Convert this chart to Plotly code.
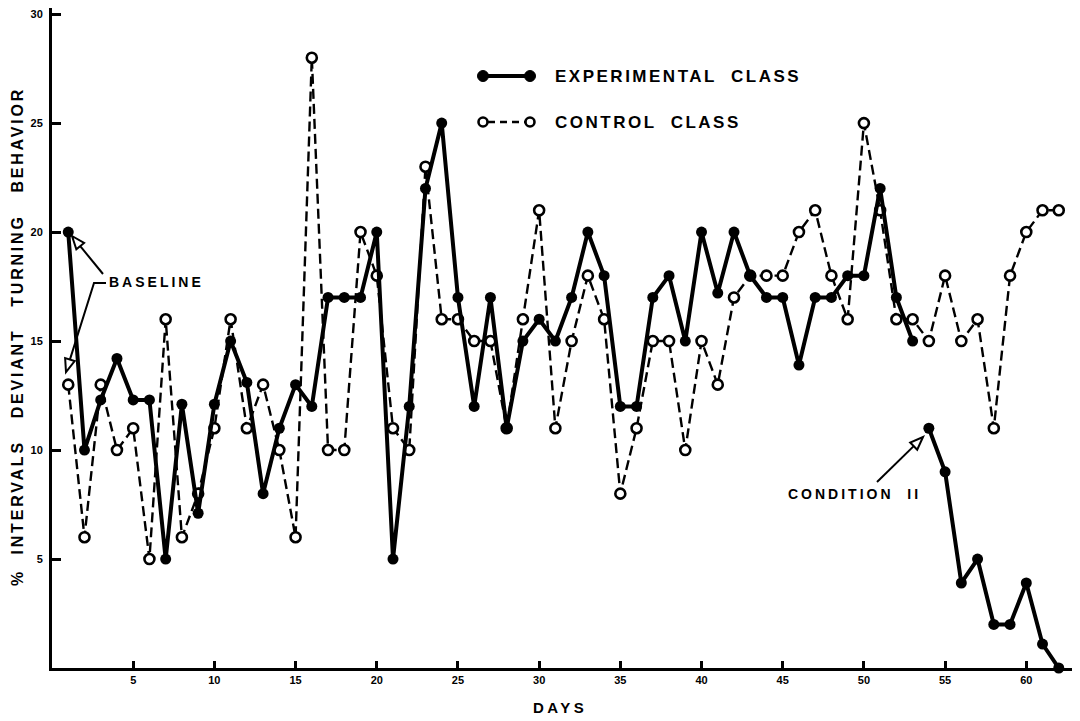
import plotly.graph_objects as go

# ---------------- data ----------------
days_baseline = list(range(1, 54))
exp_baseline = [20, 10, 12.3, 14.2, 12.3, 12.3, 5, 12.1, 7.1, 12.1,
                15, 13.1, 8, 11, 13, 12, 17, 17, 17, 20,
                5, 12, 22, 25, 17, 12, 17, 11, 15, 16,
                15, 17, 20, 18, 12, 12, 17, 18, 15, 20,
                17.2, 20, 18, 17, 17, 13.9, 17, 17, 18, 18,
                22, 17, 15]
days_condition2 = list(range(54, 63))
exp_condition2 = [11, 9, 3.9, 5, 2, 2, 3.9, 1.1, 0]

days_control = list(range(1, 63))
control = [13, 6, 13, 10, 11, 5, 16, 6, 8, 11,
           16, 11, 13, 10, 6, 28, 10, 10, 20, 18,
           11, 10, 23, 16, 16, 15, 15, 11, 16, 21,
           11, 15, 18, 16, 8, 11, 15, 15, 10, 15,
           13, 17, 18, 18, 18, 20, 21, 18, 16, 25,
           21, 16, 16, 15, 18, 15, 16, 11, 18, 20,
           21, 21]

x_ticks = [5, 10, 15, 20, 25, 30, 35, 40, 45, 50, 55, 60]
y_ticks = [5, 10, 15, 20, 25, 30]

# ---------------- layout geometry ----------------
OFF = 8                      # page body margin of the html page
W, H = 1072, 713
L, R, T, B = 44, 5, 0, 53
PW = W - L - R
PH = H - T - B
FONT = "Liberation Sans"


def px(x):
    """screen x -> paper x"""
    return (x - OFF - L) / PW


def py(y):
    """screen y -> paper y"""
    return (H - B - (y - OFF)) / PH


def spaced(text, sp=2):
    return f'<span style="letter-spacing:{sp}px">{text}</span>'


fig = go.Figure()

fig.add_trace(go.Scatter(
    x=days_control, y=control, mode="lines+markers", name="CONTROL CLASS",
    line=dict(color="black", width=2.4, dash="10px,5px"),
    marker=dict(symbol="circle", size=10, color="white",
                line=dict(color="black", width=2.6)),
    cliponaxis=False, showlegend=False))

for xs, ys in ((days_baseline, exp_baseline), (days_condition2, exp_condition2)):
    fig.add_trace(go.Scatter(
        x=xs, y=ys, mode="lines+markers", name="EXPERIMENTAL CLASS",
        line=dict(color="black", width=4),
        marker=dict(symbol="circle", size=11, color="black"),
        cliponaxis=False, showlegend=False))

shapes = []
annotations = []


def arrow(points, tip):
    """polyline shaft ending at an open triangular head at tip (screen px)"""
    (x1, y1) = points[-1]
    tx, ty = tip
    dx, dy = tx - x1, ty - y1
    n = (dx * dx + dy * dy) ** 0.5
    ux, uy = dx / n, dy / n
    hl, hw = 13, 5
    bx, by = tx - hl * ux, ty - hl * uy
    nx, ny = -uy, ux
    path = "M " + " L ".join(f"{px(a)},{py(b)}" for a, b in points) + f" L {px(bx)},{py(by)}"
    shapes.append(dict(type="path", xref="paper", yref="paper", path=path,
                       line=dict(color="black", width=2)))
    head = (f"M {px(tx)},{py(ty)} L {px(bx + hw * nx)},{py(by + hw * ny)} "
            f"L {px(bx - hw * nx)},{py(by - hw * ny)} Z")
    shapes.append(dict(type="path", xref="paper", yref="paper", path=head,
                       fillcolor="white", line=dict(color="black", width=2)))


def label(text, x, y, size, sp, anchor="left", angle=0):
    annotations.append(dict(text=spaced(f"<b>{text}</b>", sp), x=px(x), y=py(y),
                            xref="paper", yref="paper", xanchor=anchor, yanchor="middle",
                            textangle=angle, showarrow=False,
                            font=dict(family=FONT, size=size, color="black")))


# BASELINE arrows
arrow([(103, 274)], (72, 236))
arrow([(106, 283), (94, 283)], (66, 372))
label("BASELINE", 107, 282, 14, 3)

# CONDITION II arrow
arrow([(877, 482)], (923, 437))
label("CONDITION  II", 786, 494, 14, 3)

# legend (custom, drawn as in the original)
r = 5.5
ly1, ly2 = 76, 122
shapes.append(dict(type="line", xref="paper", yref="paper", x0=px(483), x1=px(530),
                   y0=py(ly1), y1=py(ly1), line=dict(color="black", width=4)))
shapes.append(dict(type="line", xref="paper", yref="paper", x0=px(488), x1=px(525),
                   y0=py(ly2), y1=py(ly2), line=dict(color="black", width=2.4, dash="7px,5px")))
for cx in (483, 530):
    shapes.append(dict(type="circle", xref="paper", yref="paper",
                       x0=px(cx - r), x1=px(cx + r), y0=py(ly1 + r), y1=py(ly1 - r),
                       fillcolor="black", line=dict(color="black", width=1)))
    shapes.append(dict(type="circle", xref="paper", yref="paper",
                       x0=px(cx - 4.5), x1=px(cx + 4.5), y0=py(ly2 + 4.5), y1=py(ly2 - 4.5),
                       fillcolor="white", line=dict(color="black", width=2.6)))
label("EXPERIMENTAL  CLASS", 553, ly1 + 1, 17, 2.5)
label("CONTROL  CLASS", 553, ly2 + 1, 17, 2.5)

# axis titles
label("%  INTERVALS   DEVIANT   TURNING   BEHAVIOR", 17, 337, 16, 2.8,
      anchor="center", angle=-90)
label("DAYS", 560, 707, 15, 3.5, anchor="center")

fig.update_layout(
    width=W, height=H,
    margin=dict(l=L, r=R, t=T, b=B),
    plot_bgcolor="white", paper_bgcolor="white",
    font=dict(family=FONT, color="black"),
    shapes=shapes, annotations=annotations,
    xaxis=dict(range=[0, 63], tickvals=x_ticks, ticktext=[f"<b>{v}</b>" for v in x_ticks],
               ticks="inside", ticklen=7, tickwidth=2.5, tickcolor="black",
               showline=True, linecolor="black", linewidth=3,
               showgrid=False, zeroline=False,
               tickfont=dict(family=FONT, size=11, color="black")),
    yaxis=dict(range=[0, 30.28], tickvals=y_ticks, ticktext=[f"<b>{v}</b>" for v in y_ticks],
               ticks="inside", ticklen=9, tickwidth=2.5, tickcolor="black",
               showline=True, linecolor="black", linewidth=3,
               showgrid=False, zeroline=False, ticklabelstandoff=4,
               ticklabeloverflow="allow",
               tickfont=dict(family=FONT, size=11, color="black")),
)

fig.write_html("out.html")
